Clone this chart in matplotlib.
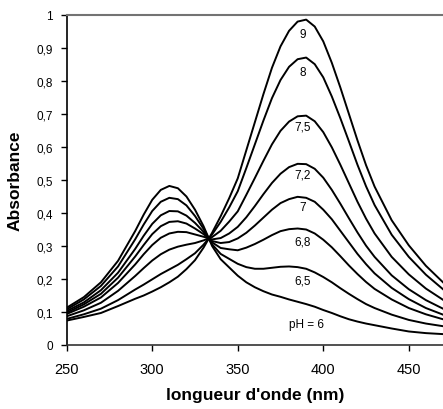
import matplotlib
matplotlib.use("Agg")
import matplotlib.pyplot as plt
from matplotlib.ticker import FuncFormatter

plt.rcParams["font.family"] = ["Liberation Sans", "DejaVu Sans"]

# wavelengths (nm)
wavelength = [250, 260, 270, 280, 290, 295, 300, 305, 310, 315, 320, 325, 330,
              335, 340, 345, 350, 355, 360, 365, 370, 375, 380, 385, 390, 395,
              400, 405, 410, 415, 420, 425, 430, 440, 450, 460, 470]

# absorbance, one list per pH
abs_ph6 = [0.113, 0.145, 0.190, 0.255, 0.345, 0.395, 0.440, 0.470, 0.482, 0.475,
           0.450, 0.410, 0.360, 0.300, 0.260, 0.235, 0.210, 0.190, 0.175, 0.163,
           0.153, 0.146, 0.138, 0.131, 0.124, 0.116, 0.106, 0.097, 0.087, 0.078,
           0.071, 0.065, 0.060, 0.050, 0.041, 0.036, 0.033]
abs_ph65 = [0.108, 0.138, 0.179, 0.238, 0.320, 0.365, 0.406, 0.434, 0.446, 0.442,
            0.423, 0.391, 0.352, 0.305, 0.276, 0.261, 0.246, 0.236, 0.231, 0.231,
            0.234, 0.237, 0.238, 0.236, 0.231, 0.220, 0.206, 0.190, 0.172, 0.155,
            0.139, 0.124, 0.112, 0.092, 0.076, 0.065, 0.057]
abs_ph68 = [0.103, 0.129, 0.166, 0.219, 0.291, 0.331, 0.367, 0.393, 0.406, 0.405,
            0.392, 0.370, 0.343, 0.311, 0.294, 0.290, 0.287, 0.295, 0.306, 0.319,
            0.333, 0.345, 0.351, 0.353, 0.350, 0.338, 0.319, 0.296, 0.269, 0.241,
            0.215, 0.191, 0.170, 0.138, 0.112, 0.093, 0.078]
abs_ph7 = [0.098, 0.123, 0.155, 0.204, 0.268, 0.303, 0.336, 0.360, 0.373, 0.375,
           0.368, 0.353, 0.336, 0.315, 0.309, 0.312, 0.323, 0.340, 0.362, 0.386,
           0.410, 0.430, 0.442, 0.449, 0.446, 0.434, 0.410, 0.381, 0.346, 0.311,
           0.276, 0.245, 0.217, 0.173, 0.139, 0.112, 0.092]
abs_ph72 = [0.094, 0.116, 0.144, 0.188, 0.244, 0.275, 0.303, 0.325, 0.338, 0.343,
            0.342, 0.335, 0.328, 0.320, 0.324, 0.338, 0.358, 0.387, 0.421, 0.457,
            0.491, 0.519, 0.539, 0.549, 0.548, 0.534, 0.507, 0.470, 0.428, 0.384,
            0.341, 0.301, 0.267, 0.211, 0.169, 0.136, 0.110]
abs_ph75 = [0.087, 0.105, 0.128, 0.164, 0.209, 0.233, 0.256, 0.275, 0.289, 0.298,
            0.304, 0.309, 0.317, 0.327, 0.346, 0.374, 0.405, 0.455, 0.506, 0.558,
            0.608, 0.649, 0.677, 0.693, 0.695, 0.678, 0.645, 0.599, 0.546, 0.490,
            0.434, 0.383, 0.338, 0.267, 0.214, 0.171, 0.137]
abs_ph8 = [0.079, 0.093, 0.110, 0.136, 0.168, 0.183, 0.199, 0.215, 0.229, 0.243,
           0.260, 0.278, 0.304, 0.335, 0.373, 0.417, 0.466, 0.536, 0.608, 0.680,
           0.748, 0.803, 0.843, 0.866, 0.871, 0.851, 0.811, 0.753, 0.687, 0.617,
           0.546, 0.481, 0.424, 0.334, 0.267, 0.213, 0.169]
abs_ph9 = [0.074, 0.085, 0.097, 0.118, 0.140, 0.150, 0.162, 0.175, 0.190, 0.207,
           0.230, 0.257, 0.295, 0.340, 0.390, 0.445, 0.505, 0.590, 0.675, 0.760,
           0.840, 0.905, 0.952, 0.980, 0.986, 0.965, 0.920, 0.855, 0.780, 0.700,
           0.620, 0.545, 0.480, 0.378, 0.302, 0.240, 0.190]

series = [abs_ph6, abs_ph65, abs_ph68, abs_ph7, abs_ph72, abs_ph75, abs_ph8, abs_ph9]
ph_labels = ["pH = 6", "6,5", "6,8", "7", "7,2", "7,5", "8", "9"]

# where each pH label sits (under its peak)
label_x = [390, 388, 388, 388, 388, 388, 388, 388]
label_y = [0.064, 0.195, 0.314, 0.419, 0.517, 0.662, 0.827, 0.942]

fig = plt.figure(figsize=(4.43, 4.10), dpi=100)
ax = fig.add_axes([0.1506, 0.1561, 0.8494, 0.8049])

for values in series:
    ax.plot(wavelength, values, color="black", linewidth=1.4)

for text, x, y in zip(ph_labels, label_x, label_y):
    ax.text(x, y, text, ha="center", va="center", fontsize=8.5)

ax.set_xlim(250, 470)
ax.set_ylim(0, 1)
ax.set_xticks([250, 300, 350, 400, 450])
ax.set_yticks([i / 10 for i in range(11)])
ax.yaxis.set_major_formatter(
    FuncFormatter(lambda v, pos: ("%g" % round(v, 1)).replace(".", ",")))

ax.spines["right"].set_visible(False)
ax.spines["top"].set_color("0.45")
ax.spines["top"].set_linewidth(1.5)
ax.spines["left"].set_linewidth(1.2)
ax.spines["bottom"].set_linewidth(1.2)
ax.spines["bottom"].set_color("0.2")

ax.tick_params(axis="y", direction="out", length=4, width=1, pad=6, labelsize=8.5)
ax.tick_params(axis="x", direction="out", length=4, width=1, pad=8, labelsize=10.5)

ax.set_xlabel("longueur d'onde (nm)", fontsize=12.5, fontweight="bold", labelpad=8)
ax.set_ylabel("Absorbance", fontsize=12.5, fontweight="bold", labelpad=10)

fig.savefig("out.png", dpi=100)
